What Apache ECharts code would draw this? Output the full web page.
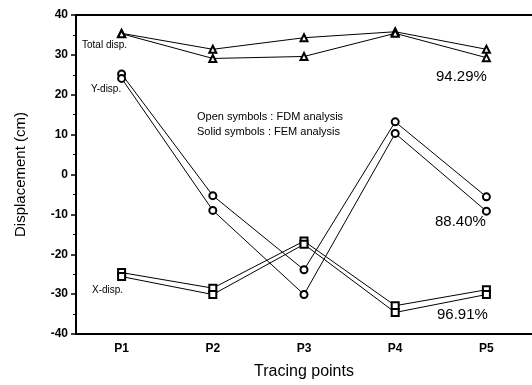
<!DOCTYPE html>
<html><head><meta charset="utf-8">
<script src="https://cdn.jsdelivr.net/npm/echarts@6/dist/echarts.min.js"></script>
<style>html,body{margin:0;padding:0;background:#fff}#c{width:532px;height:385px}</style>
</head><body><div id="c"></div>
<script>
const categories = ['P1','P2','P3','P4','P5'];
const totalFDM = [35.4, 31.4, 34.3, 35.8, 31.4];
const totalFEM = [35.3, 29.1, 29.6, 35.4, 29.3];
const yFDM = [25.2, -5.3, -23.9, 13.2, -5.6];
const yFEM = [24.1, -9.0, -30.1, 10.3, -9.2];
const xFDM = [-24.6, -28.5, -16.7, -32.9, -28.9];
const xFEM = [-25.6, -30.1, -17.5, -34.6, -30.1];
const yTicks = {min: -40, max: 40, interval: 10};

const font = 'Liberation Sans, Arial, sans-serif';
function ser(data, sym) {
  return {type: 'line', data: data, symbol: sym, symbolSize: 7,
    lineStyle: {color: '#000', width: 1}, itemStyle: {color: '#000', borderColor: '#000', borderWidth: 1.2},
    emphasis: {disabled: true}, animation: false, z: 3};
}
const chart = echarts.init(document.getElementById('c'));
chart.setOption({
  backgroundColor: '#fff',
  animation: false,
  grid: {left: 76, top: 15, width: 458, height: 320},
  xAxis: [{
    type: 'category', data: categories, boundaryGap: true, position: 'bottom',
    axisLine: {onZero: false, lineStyle: {color: '#000', width: 2}},
    axisTick: {alignWithLabel: true, length: 5, lineStyle: {color: '#000', width: 1.5}},
    axisLabel: {color: '#000', fontFamily: font, fontSize: 12, fontWeight: 'bold', margin: 9},
    name: 'Tracing points', nameLocation: 'middle', nameGap: 30,
    nameTextStyle: {color: '#000', fontFamily: font, fontSize: 16}
  }, {
    type: 'category', data: categories, position: 'top',
    axisLine: {onZero: false, lineStyle: {color: '#000', width: 2}}, axisTick: {show: false}, axisLabel: {show: false}
  }],
  yAxis: {
    type: 'value', min: yTicks.min, max: yTicks.max, interval: yTicks.interval,
    axisLine: {show: true, onZero: false, lineStyle: {color: '#000', width: 2}},
    axisTick: {show: true, length: 5, lineStyle: {color: '#000', width: 1.5}},
    minorTick: {show: true, splitNumber: 2, length: 3, lineStyle: {color: '#000', width: 1}},
    splitLine: {show: false},
    axisLabel: {color: '#000', fontFamily: font, fontSize: 12, fontWeight: 'bold', margin: 8},
    name: 'Displacement (cm)', nameLocation: 'middle', nameGap: 48, nameRotate: 90,
    nameTextStyle: {color: '#000', fontFamily: font, fontSize: 15}
  },
  series: [
    ser(totalFDM, 'emptyTriangle'), ser(totalFEM, 'emptyTriangle'),
    ser(yFDM, 'emptyCircle'), ser(yFEM, 'emptyCircle'),
    ser(xFDM, 'emptyRect'), ser(xFEM, 'emptyRect')
  ],
  graphic: [
    {type: 'text', left: 82, top: 40, style: {text: 'Total disp.', font: '10px ' + font, fill: '#000'}},
    {type: 'text', left: 91, top: 84, style: {text: 'Y-disp.', font: '10px ' + font, fill: '#000'}},
    {type: 'text', left: 92, top: 285, style: {text: 'X-disp.', font: '10px ' + font, fill: '#000'}},
    {type: 'text', left: 197, top: 111, style: {text: 'Open symbols : FDM analysis', font: '11px ' + font, fill: '#000'}},
    {type: 'text', left: 197, top: 126, style: {text: 'Solid symbols : FEM analysis', font: '11px ' + font, fill: '#000'}},
    {type: 'text', left: 436, top: 69, style: {text: '94.29%', font: '15px ' + font, fill: '#000'}},
    {type: 'text', left: 435, top: 214, style: {text: '88.40%', font: '15px ' + font, fill: '#000'}},
    {type: 'text', left: 437, top: 307, style: {text: '96.91%', font: '15px ' + font, fill: '#000'}}
  ]
});
</script></body></html>
